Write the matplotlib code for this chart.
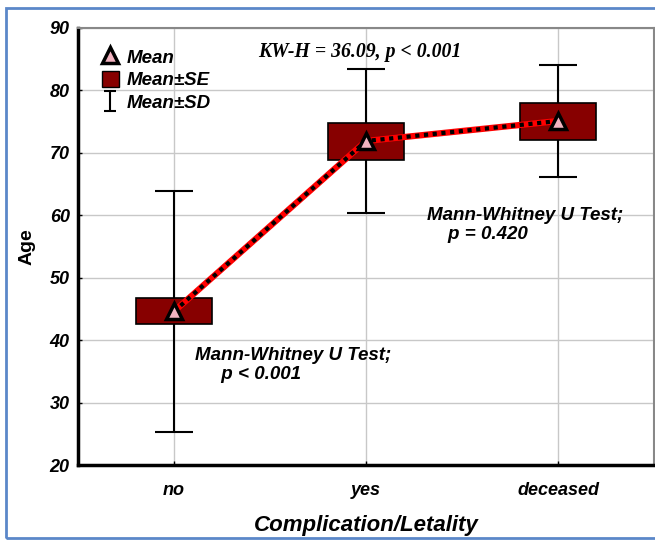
import matplotlib
matplotlib.use('Agg')
import matplotlib.pyplot as plt
import numpy as np
from matplotlib.lines import Line2D
from matplotlib.patches import Patch, Rectangle
from matplotlib.path import Path

# data
groups = ['no', 'yes', 'deceased']
mean = [44.6, 71.9, 75.1]
se_lo = [42.6, 68.9, 72.0]
se_hi = [46.7, 74.8, 78.0]
sd_lo = [25.3, 60.4, 66.2]
sd_hi = [63.9, 83.4, 84.1]
kw_text = 'KW-H = 36.09, p < 0.001'
mw_texts = ['Mann-Whitney U Test;\n     p < 0.001', 'Mann-Whitney U Test;\n    p = 0.420']

plt.rcParams['font.family'] = ['Liberation Sans', 'DejaVu Sans']

fig = plt.figure(figsize=(6.55, 5.42), dpi=100)
ax = fig.add_axes([78/655, 1-465/542, 576/655, 437/542])

x = np.arange(len(groups)) + 0.5
dark_red = '#870000'

# SD whiskers and caps
ax.vlines(x, sd_lo, sd_hi, color='black', lw=1.5, zorder=2)
ax.hlines(sd_lo, x - 0.1, x + 0.1, color='black', lw=1.5, zorder=2)
ax.hlines(sd_hi, x - 0.1, x + 0.1, color='black', lw=1.5, zorder=2)

# SE boxes
ax.bar(x, np.array(se_hi) - np.array(se_lo), bottom=se_lo, width=0.4,
       color=dark_red, edgecolor='black', lw=1.2, zorder=3)

# mean line
ax.plot(x, mean, color='red', lw=4.5, zorder=4, solid_capstyle='butt')
ax.plot(x, mean, color='black', lw=3, ls=(0, (1, 1.1)), zorder=5)
ax.plot(x, mean, ls='none', marker='^', ms=12, mfc='#f2b3c0', mec='black',
        mew=2.5, zorder=6)

ax.set_xlim(0, 3)
ax.set_ylim(20, 90)
ax.set_xticks(x)
ax.set_xticklabels(groups)
ax.set_yticks(np.arange(20, 91, 10))
ax.grid(True, color='#c8c8c8', lw=1)
ax.set_axisbelow(True)
ax.tick_params(axis='both', direction='in', length=3, width=1, pad=6,
               labelsize=13)
for lab in ax.get_xticklabels() + ax.get_yticklabels():
    lab.set_fontweight('bold')
    lab.set_fontstyle('italic')
ax.tick_params(axis='x', pad=12)

ax.spines['left'].set_linewidth(2.5)
ax.spines['bottom'].set_linewidth(2.5)
ax.spines['top'].set_color('#888888')
ax.spines['right'].set_color('#888888')
ax.spines['top'].set_linewidth(1.5)
ax.spines['right'].set_linewidth(1.5)

ax.set_xlabel('Complication/Letality', fontsize=16, fontweight='bold',
              fontstyle='italic', labelpad=12)
ax.set_ylabel('Age', fontsize=14, fontweight='bold', labelpad=10)

# legend
sd_marker = Path([(-0.6, -1), (0.6, -1), (0, -1), (0, 1), (-0.6, 1), (0.6, 1)],
                 [Path.MOVETO, Path.LINETO, Path.MOVETO, Path.LINETO,
                  Path.MOVETO, Path.LINETO])
handles = [
    Line2D([], [], ls='none', marker='^', ms=11, mfc='#f2b3c0', mec='black', mew=2.5),
    Patch(facecolor=dark_red, edgecolor='black'),
    Line2D([], [], ls='none', marker=sd_marker, ms=14, mec='black', mew=1.5),
]
leg = ax.legend(handles, ['Mean', 'Mean±SE', 'Mean±SD'], loc='upper left',
                bbox_to_anchor=(0.028, 0.972), frameon=False, handlelength=0.9,
                handleheight=1.0, handletextpad=0.45, labelspacing=0.22,
                borderaxespad=0, prop={'size': 13.5, 'weight': 'bold', 'style': 'italic'})

ax.text(0.49, 0.945, kw_text, transform=ax.transAxes, ha='center', va='center',
        fontsize=14.2, fontweight='bold', fontstyle='italic',
        family=['Liberation Serif'])

ax.text(0.61, 36.0, mw_texts[0], ha='left', va='center', fontsize=13.5,
        fontweight='bold', fontstyle='italic', linespacing=1.15)
ax.text(1.82, 58.4, mw_texts[1], ha='left', va='center', fontsize=13.5,
        fontweight='bold', fontstyle='italic', linespacing=1.15)

# blue frame around the figure
fig.patches.append(Rectangle((6/655, 4/542), 1.0, 1 - 12/542, transform=fig.transFigure,
                             fill=False, edgecolor='#5b87c9', lw=2))

fig.savefig('out.png', dpi=100)
